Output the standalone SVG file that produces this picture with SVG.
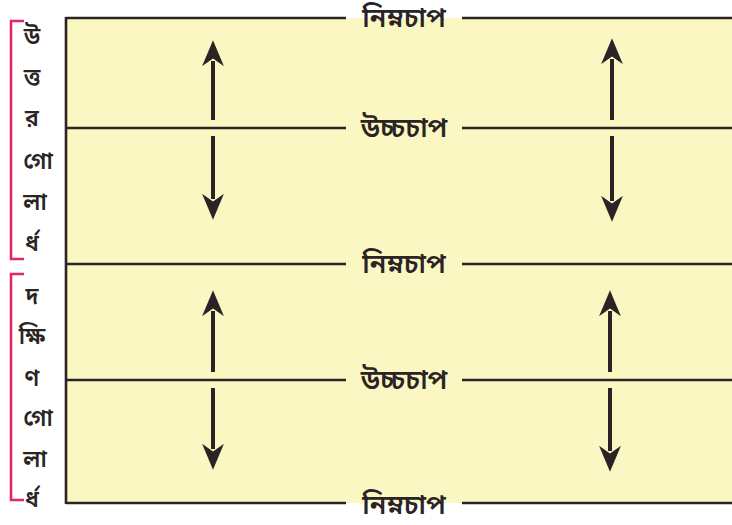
<svg xmlns="http://www.w3.org/2000/svg" width="732" height="525" viewBox="0 0 732 525">
<defs>
<style>
.bg{fill:#fbf7c3}
.ln{stroke:#2a2424;stroke-width:2.6;fill:none}
.ar{stroke:#2a2424;stroke-width:4;fill:none}
.lbl{font-family:"Noto Sans Bengali","Noto Sans","DejaVu Sans",sans-serif;font-size:27px;font-weight:600;fill:#2a2424;text-anchor:middle}
.vt{font-family:"Noto Sans Bengali","Noto Sans","DejaVu Sans",sans-serif;font-size:23px;font-weight:600;fill:#2a2424;text-anchor:middle}
.br{stroke:#e2266e;stroke-width:2.6;fill:none}
</style>
<marker id="ah" viewBox="0 0 10 10" refX="2" refY="5" markerWidth="6.5" markerHeight="6.5" orient="auto" markerUnits="strokeWidth">
<path d="M0,0.8 L10,5 L0,9.2 L3,5 Z" fill="#2a2424"/>
</marker>
</defs>
<rect x="0" y="0" width="732" height="525" fill="#ffffff"/>
<rect class="bg" x="66" y="18" width="666" height="485"/>
<g id="connectors">
<line class="ln" x1="66" y1="17" x2="66" y2="504"/>
<path class="ln" d="M66,18 H346 M462,18 H732"/>
<path class="ln" d="M66,128 H346 M462,128 H732"/>
<path class="ln" d="M66,264 H346 M462,264 H732"/>
<path class="ln" d="M66,380 H346 M462,380 H732"/>
<path class="ln" d="M66,503 H346 M462,503 H732"/>
<line class="ar" x1="213" y1="120" x2="213" y2="61" marker-end="url(#ah)"/>
<line class="ar" x1="213" y1="136" x2="213" y2="199" marker-end="url(#ah)"/>
<line class="ar" x1="612" y1="120" x2="612" y2="59" marker-end="url(#ah)"/>
<line class="ar" x1="612" y1="136" x2="612" y2="201" marker-end="url(#ah)"/>
<line class="ar" x1="213" y1="372" x2="213" y2="311" marker-end="url(#ah)"/>
<line class="ar" x1="213" y1="388" x2="213" y2="449" marker-end="url(#ah)"/>
<line class="ar" x1="610" y1="372" x2="610" y2="311" marker-end="url(#ah)"/>
<line class="ar" x1="610" y1="388" x2="610" y2="451" marker-end="url(#ah)"/>
</g>
<g id="label-low-1"><text class="lbl" x="404" y="27">নিম্নচাপ</text></g>
<g id="label-high-1"><text class="lbl" x="404" y="137">উচ্চচাপ</text></g>
<g id="label-low-2"><text class="lbl" x="404" y="273">নিম্নচাপ</text></g>
<g id="label-high-2"><text class="lbl" x="404" y="389">উচ্চচাপ</text></g>
<g id="label-low-3"><text class="lbl" x="404" y="514">নিম্নচাপ</text></g>
<g id="northern">
<path class="br" d="M24,21 H11 V259 H24"/>
<text class="vt" x="32" y="44">উ</text>
<text class="vt" x="32" y="85">ত্ত</text>
<text class="vt" x="32" y="126">র</text>
<text class="vt" x="38" y="169">গো</text>
<text class="vt" x="35" y="210">লা</text>
<text class="vt" x="32" y="251">র্ধ</text>
</g>
<g id="southern">
<path class="br" d="M24,274 H11 V500 H24"/>
<text class="vt" x="32" y="304">দ</text>
<text class="vt" x="32" y="344">ক্ষি</text>
<text class="vt" x="32" y="386">ণ</text>
<text class="vt" x="38" y="426">গো</text>
<text class="vt" x="35" y="467">লা</text>
<text class="vt" x="32" y="507">র্ধ</text>
</g>
</svg>
